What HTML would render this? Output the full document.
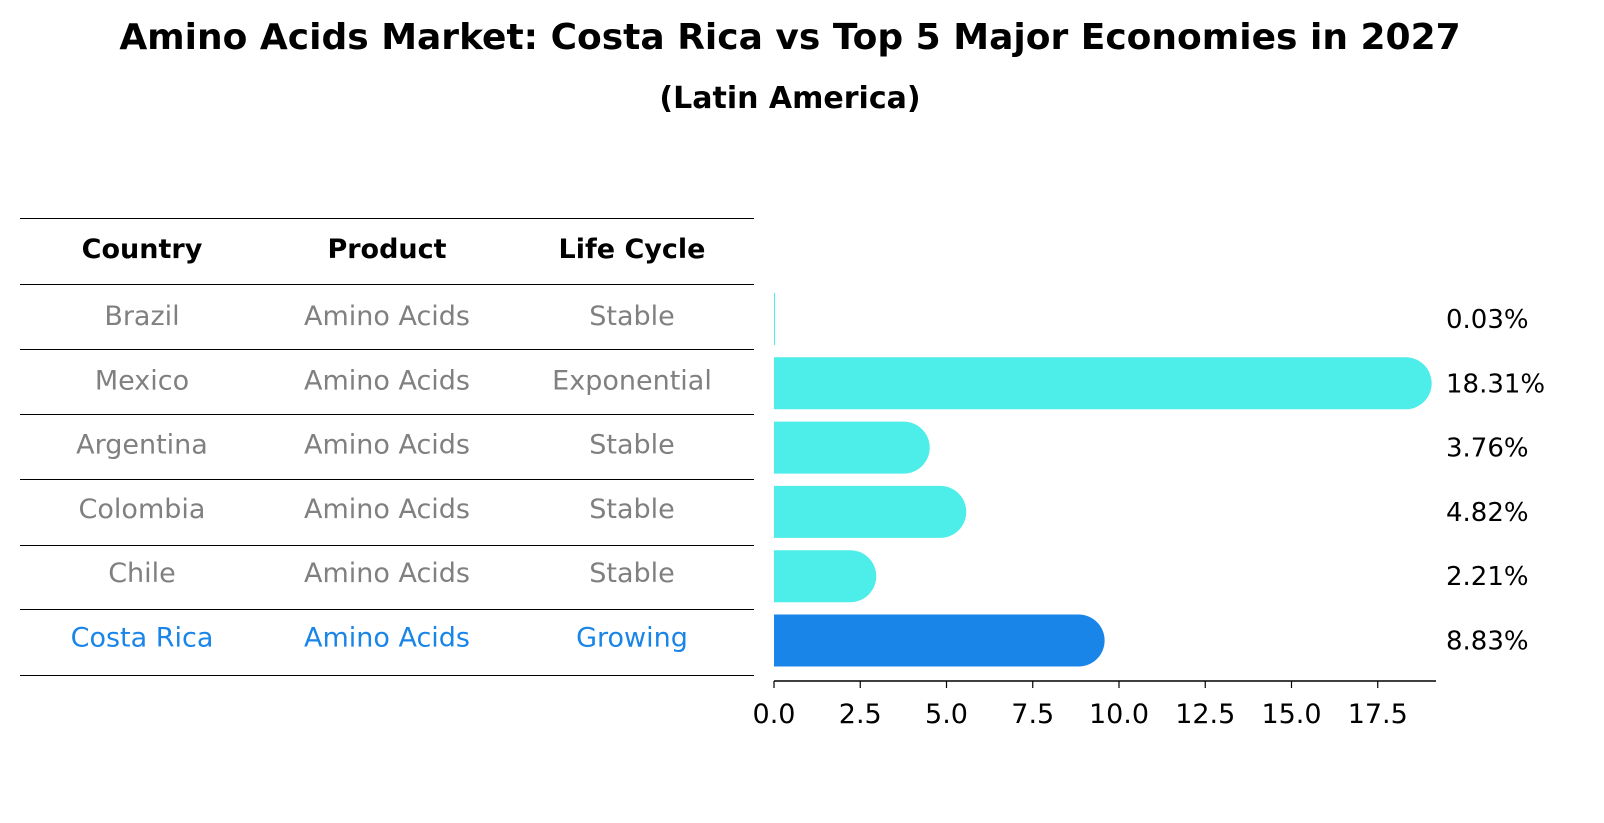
<!DOCTYPE html>
<html><head><meta charset="utf-8"><style>
body{margin:0;background:#fff;font-family:"Liberation Sans","DejaVu Sans",sans-serif;}
#wrap{position:relative;width:1604px;height:823px;overflow:hidden;}
.t{position:absolute;white-space:nowrap;}
</style></head><body>
<div id="wrap">
<svg id="svg" width="1604" height="823" style="position:absolute;left:0;top:0">
<text x="790" y="49" text-anchor="middle" font-size="36" font-weight="bold" font-family="DejaVu Sans, sans-serif">Amino Acids Market: Costa Rica vs Top 5 Major Economies in 2027</text>
<text x="790" y="108" text-anchor="middle" font-size="30" font-weight="bold" font-family="DejaVu Sans, sans-serif">(Latin America)</text>
</svg>
</div>
<script>
const countries=["Brazil","Mexico","Argentina","Colombia","Chile","Costa Rica"];
const products=["Amino Acids","Amino Acids","Amino Acids","Amino Acids","Amino Acids","Amino Acids"];
const lifeCycles=["Stable","Exponential","Stable","Stable","Stable","Growing"];
const values=[0.03,18.31,3.76,4.82,2.21,8.83];
const ticks=[0,2.5,5,7.5,10,12.5,15,17.5];
const ns="http://www.w3.org/2000/svg";
const svg=document.getElementById('svg');
const x0=774,pxPer=34.5;
const xs=v=>x0+v*pxPer;
const rowY=i=>317+i*64.3;
function mk(tag,attrs,txt){const e=document.createElementNS(ns,tag);for(const k in attrs)e.setAttribute(k,attrs[k]);if(txt!==undefined)e.textContent=txt;svg.appendChild(e);return e;}
const F='DejaVu Sans, sans-serif';
const lineYs=[218,284,349,414,479,545,609,675];
lineYs.forEach(y=>{const l=mk('line',{x1:20,x2:754,y1:y+0.5,y2:y+0.5,stroke:'#000','stroke-width':1});

});
const colX=[142,387,632];
["Country","Product","Life Cycle"].forEach((h,j)=>{const t=mk('text',{x:colX[j],y:258,'text-anchor':'middle','font-size':27,'font-weight':'bold','font-family':F,fill:'#000'},h);

});
countries.forEach((c,i)=>{
  const col=i===countries.length-1?'#1a85e8':'#808080';
  [c,products[i],lifeCycles[i]].forEach((s,j)=>{const t=mk('text',{x:colX[j],y:rowY(i)+8,'text-anchor':'middle','font-size':27,'font-family':F,fill:col},s);
  
  });
  const cy=rowY(i)+2,h=52,r=26;
  const w=xs(values[i])-x0;
  const color=i===countries.length-1?'#1a85e8':'#4dedea';
  let b;
  if(w<2){b=mk('rect',{x:x0,y:cy-h/2,width:Math.max(w,1),height:h,fill:color});}
  else{const xe=xs(values[i]);
    b=mk('path',{d:`M${x0},${cy-h/2} L${xe},${cy-h/2} A${r},${r} 0 0 1 ${xe},${cy+h/2} L${x0},${cy+h/2} Z`,fill:color});}
  
  
  const lb=mk('text',{x:1446,y:cy+9,'font-size':26,'font-family':F,fill:'#000'},values[i].toFixed(2)+'%');
  
  
});
const ax=mk('line',{x1:x0,x2:1436,y1:681,y2:681,stroke:'#000','stroke-width':1.5});


ticks.forEach(v=>{const tk=mk('line',{x1:xs(v),x2:xs(v),y1:681,y2:688,stroke:'#000','stroke-width':1.2});


const tl=mk('text',{x:xs(v),y:723,'text-anchor':'middle','font-size':27,'font-family':F,fill:'#000'},v.toFixed(1));

});
</script>
</body></html>
